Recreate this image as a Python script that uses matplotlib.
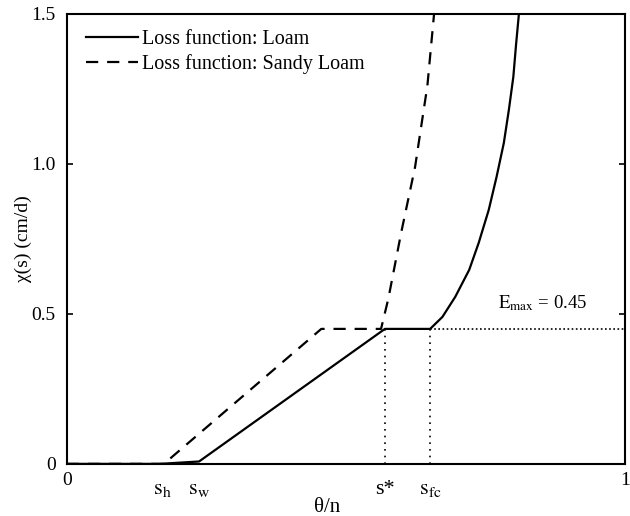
import matplotlib
matplotlib.use('Agg')
import matplotlib.pyplot as plt
import matplotlib.transforms as mtransforms

plt.rcParams['font.family'] = ['Liberation Serif', 'DejaVu Serif']
plt.rcParams['mathtext.fontset'] = 'stix'

# loss function, loam
loam_x = [0.0, 0.166, 0.237, 0.570, 0.651, 0.673, 0.696, 0.721, 0.738, 0.756,
          0.770, 0.783, 0.792, 0.800, 0.805, 0.810]
loam_y = [0.0, 0.0, 0.008, 0.45, 0.45, 0.49, 0.557, 0.647, 0.737, 0.847,
          0.957, 1.07, 1.18, 1.29, 1.40, 1.50]

# loss function, sandy loam
sandy_x = [0.0, 0.174, 0.456, 0.563, 0.576, 0.599, 0.624, 0.637, 0.646, 0.658]
sandy_y = [0.0, 0.0, 0.45, 0.45, 0.55, 0.77, 0.99, 1.15, 1.26, 1.50]

e_max = 0.45
s_star = 0.570
s_fc = 0.651
s_marks = [0.171, 0.237, 0.570, 0.651]
s_labels = [r'$\mathrm{s}_{\mathrm{h}}$', r'$\mathrm{s}_{\mathrm{w}}$', 's*', r'$\mathrm{s}_{\mathrm{fc}}$']

fig = plt.figure(figsize=(6.3, 5.16), dpi=100)
ax = fig.add_axes([0.106, 0.101, 0.886, 0.872])

ax.plot(loam_x, loam_y, color='black', lw=1.6, label='Loss function: Loam')
ax.plot(sandy_x, sandy_y, color='black', lw=1.6, ls=(0, (5.5, 4)), label='Loss function: Sandy Loam')

# dotted guides
ax.plot([s_star, s_star], [0, e_max], color='black', lw=1.2, ls=(0, (1, 3)))
ax.plot([s_fc, s_fc], [0, e_max], color='black', lw=1.2, ls=(0, (1, 3)))
ax.plot([s_fc, 1.0], [e_max, e_max], color='black', lw=1.2, ls=(0, (1, 1.5)))
ax.text(0.772, 0.52, r'$\mathrm{E}_{\mathrm{max}}$ = 0.45', fontsize=13.5)

ax.set_xlim(0, 1)
ax.set_ylim(0, 1.5)
ax.set_xticks([0, 1])
ax.set_xticklabels(['0', '1'])
ax.set_yticks([0, 0.5, 1.0, 1.5])
ax.set_yticklabels(['0', '0.5', '1.0', '1.5'])
ax.tick_params(axis='y', direction='in', length=4, width=1.2, right=True, labelsize=14, pad=8)
ax.tick_params(axis='x', length=0, labelsize=14, pad=6)

trans = mtransforms.blended_transform_factory(ax.transData, ax.transAxes)
for xv, lab in zip(s_marks, s_labels):
    ax.text(xv, -0.036, lab, transform=trans, ha='center', va='top', fontsize=16)

for sp in ax.spines.values():
    sp.set_linewidth(1.5)

ax.set_xlabel('θ/n', fontsize=15)
ax.xaxis.set_label_coords(0.466, -0.075)
ax.set_ylabel('χ(s) (cm/d)', fontsize=14)
ax.yaxis.set_label_coords(-0.062, 0.5)

ax.legend(loc='upper left', frameon=False, fontsize=14.5, handlelength=2.6,
          handletextpad=0.2, labelspacing=0.25, borderaxespad=0.4, bbox_to_anchor=(0.005, 1.0))

plt.savefig('out.png', dpi=100)
